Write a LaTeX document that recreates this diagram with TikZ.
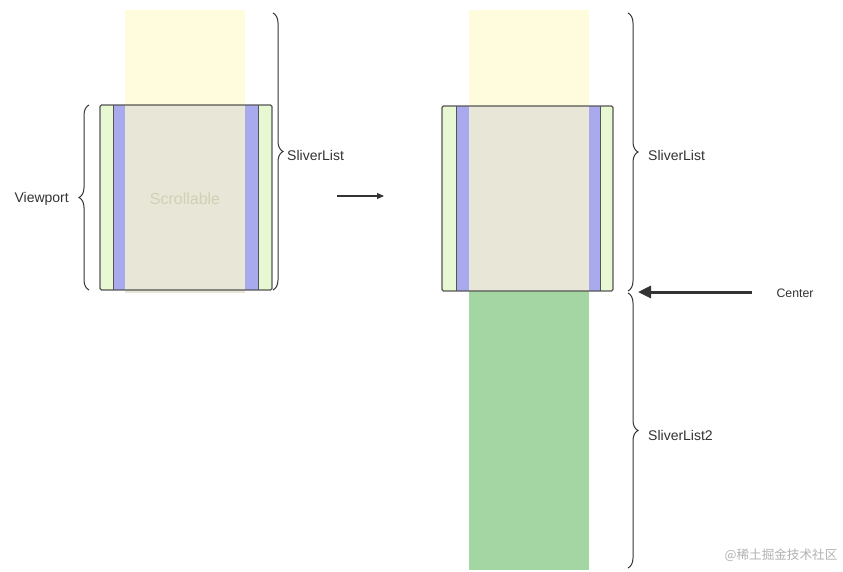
\documentclass[tikz,border=0pt]{standalone}
\usepackage{fontspec}
\setmainfont{Liberation Sans}
\newfontfamily\cjk{Noto Sans CJK SC}
\usetikzlibrary{decorations.pathreplacing,arrows.meta}
\definecolor{scrollyellow}{HTML}{FEFCDC}
\definecolor{overlapgray}{HTML}{E7E6D7}
\definecolor{vpgreen}{HTML}{E8F8D2}
\definecolor{vpblue}{HTML}{A9AAEE}
\definecolor{listgreen}{HTML}{A3D6A3}
\definecolor{edgegray}{HTML}{555555}
\definecolor{txt}{HTML}{333333}
\definecolor{scrolltxt}{HTML}{D3CFB5}
\tikzset{
  curly/.style={draw=txt, line width=1pt, decorate, decoration={brace, amplitude=10pt}},
  lbl/.style={text=txt, font=\fontsize{14}{16}\selectfont, inner sep=0pt},
  frame/.style={draw=edgegray, line width=1.1pt, rounded corners=1.5pt},
}
\begin{document}
\begin{tikzpicture}[x=1pt,y=-1pt]
\useasboundingbox[fill=white] (0,0) rectangle (843,571);

% ---------- left diagram ----------
\fill[vpgreen] (100,105) rectangle (113,290);
\fill[vpgreen] (258,105) rectangle (272,290);
\fill[vpblue] (113,105) rectangle (125,290);
\fill[vpblue] (245,105) rectangle (258,290);
\draw[edgegray, line width=0.8pt] (113,105) -- (113,290) (258,105) -- (258,290);
\fill[scrollyellow] (125,10) rectangle (245,105);
\fill[overlapgray] (125,105) rectangle (245,293);
\draw[frame] (100,105) rectangle (272,290);
\node[text=scrolltxt, font=\fontsize{16}{18}\selectfont, inner sep=0pt] (scroll) at (185,199) {Scrollable};

\draw[curly] (89,290) -- (89,105);
\node[lbl, anchor=east] (viewport) at (69,199) {Viewport};
\draw[curly] (273,13) -- (273,290);
\node[lbl, anchor=west] (sl1) at (287,155) {SliverList};

\coordinate (a1) at (337,196);
\coordinate (a2) at (384,196);
\draw[txt, line width=1.1pt, -{Triangle[length=7pt,width=6pt]}] (a1) -- (a2);

% ---------- right diagram ----------
\fill[listgreen] (469,291) rectangle (589,570);
\fill[vpgreen] (442,106) rectangle (456,291);
\fill[vpgreen] (600,106) rectangle (613,291);
\fill[vpblue] (456,106) rectangle (469,291);
\fill[vpblue] (589,106) rectangle (600,291);
\draw[edgegray, line width=0.8pt] (456,106) -- (456,291) (600,106) -- (600,291);
\fill[scrollyellow] (469,10) rectangle (589,106);
\fill[overlapgray] (469,106) rectangle (589,291);
\draw[frame] (442,106) rectangle (613,291);

\draw[curly] (628,13) -- (628,291);
\node[lbl, anchor=west] (sl2) at (648,155) {SliverList};
\draw[curly] (628,293) -- (628,568);
\node[lbl, anchor=west] (sl3) at (648,435) {SliverList2};

\coordinate (cstart) at (752,292);
\coordinate (cend) at (638,292);
\draw[txt, line width=3pt, -{Triangle[length=13pt,width=12pt]}] (cstart) -- (cend);
\node[text=txt, font=\fontsize{12.3}{14}\selectfont, inner sep=0pt] (center) at (795,293) {Center};

\node[text=black!30, font=\cjk\fontsize{12.6}{14}\selectfont, inner sep=0pt] (wm) at (781,555) {@稀土掘金技术社区};
\end{tikzpicture}
\end{document}
